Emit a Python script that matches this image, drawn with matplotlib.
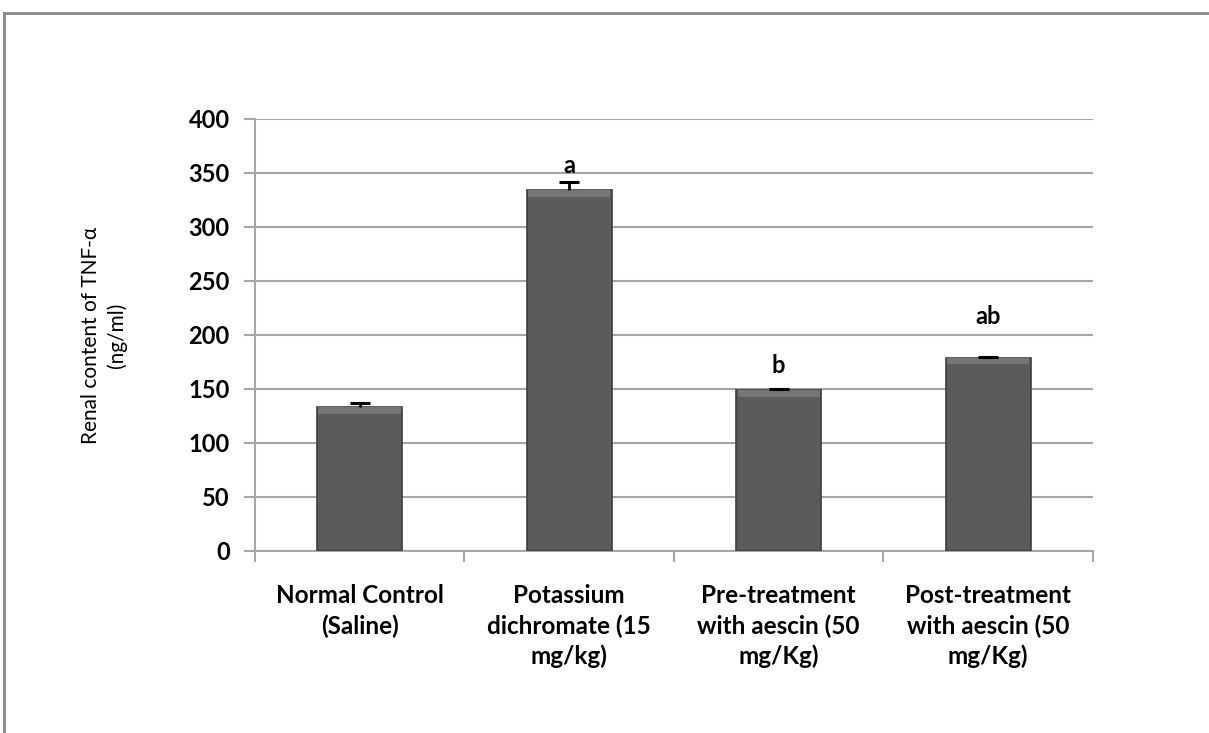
import matplotlib
matplotlib.use('Agg')
import matplotlib.pyplot as plt
from matplotlib.lines import Line2D
import numpy as np

# Datos
groups = ['Normal Control\n(Saline)',
          'Potassium\ndichromate (15\nmg/kg)',
          'Pre-treatment\nwith aescin (50\nmg/Kg)',
          'Post-treatment\nwith aescin (50\nmg/Kg)']
tnf_values = [133, 334, 149, 179]
tnf_errors = [4, 8, 1.3, 0.8]
sig_letters = ['', 'a', 'b', 'ab']
sig_heights = [0, 357, 172, 217]

yticks = [0, 50, 100, 150, 200, 250, 300, 350, 400]

font = ['Lato', 'DejaVu Sans']
grid_color = '#a6a6a6'
bar_color = '#5b5b5b'

fig = plt.figure(figsize=(12.09, 7.33), dpi=100)
fig.patch.set_facecolor('white')
ax = fig.add_axes([0.2108, 0.2483, 0.6932, 0.5894])

x = np.arange(len(groups))
vals = np.array(tnf_values, dtype=float)
errs = np.array(tnf_errors, dtype=float)

bars = ax.bar(x, vals, width=0.405, color=bar_color,
              edgecolor='#3e3e3e', linewidth=1.2, zorder=3)

# Bisel claro en la parte superior de las barras
for b in bars:
    ax.bar(b.get_x() + b.get_width() / 2, 6, bottom=b.get_height() - 6,
           width=b.get_width() * 0.97, color='#767676', linewidth=0, zorder=3.5)

# Barras de error solo hacia arriba (como en Excel)
ax.vlines(x, vals, vals + errs, color='black', linewidth=2, zorder=4)
ax.plot(x, vals + errs, linestyle='none', marker='_', markersize=14,
        markeredgewidth=2.2, color='black', zorder=4)

for xi, lab, h in zip(x, sig_letters, sig_heights):
    if lab:
        ax.text(xi, h, lab, ha='center', va='center', fontsize=17,
                fontweight='bold', family=font)

ax.set_xlim(-0.5, len(groups) - 0.5)
ax.set_ylim(0, 400)
ax.set_yticks(yticks)
ax.set_yticklabels([str(v) for v in yticks], fontsize=17, fontweight='bold', family=font)
ax.set_xticks(x)
ax.set_xticklabels(groups, fontsize=17.5, fontweight='bold', family=font, linespacing=1.35)
ax.set_xticks(np.arange(-0.5, len(groups)), minor=True)
ax.tick_params(axis='x', which='major', length=0, pad=24)
ax.tick_params(axis='x', which='minor', length=8, width=1.5, color=grid_color, direction='out')
ax.tick_params(axis='y', length=8, width=1.5, color=grid_color, direction='out', pad=10)

ax.grid(axis='y', color=grid_color, linewidth=1.5, zorder=0)
ax.set_axisbelow(True)
for side in ['top', 'right']:
    ax.spines[side].set_visible(False)
for side in ['left', 'bottom']:
    ax.spines[side].set_color(grid_color)
    ax.spines[side].set_linewidth(1.5)

ax.set_ylabel('Renal content of TNF-α\n(ng/ml)', fontsize=15, family=font,
              linespacing=1.35, labelpad=44)

# Marco del gráfico (solo borde superior e izquierdo visibles)
fig.add_artist(Line2D([0.0035, 1.0], [1 - 12.6 / 733, 1 - 12.6 / 733],
                      transform=fig.transFigure, color='#888888', linewidth=2))
fig.add_artist(Line2D([0.0035, 0.0035], [0.0, 1 - 12.6 / 733],
                      transform=fig.transFigure, color='#888888', linewidth=2))

plt.savefig('out.png', dpi=100)
plt.close()
